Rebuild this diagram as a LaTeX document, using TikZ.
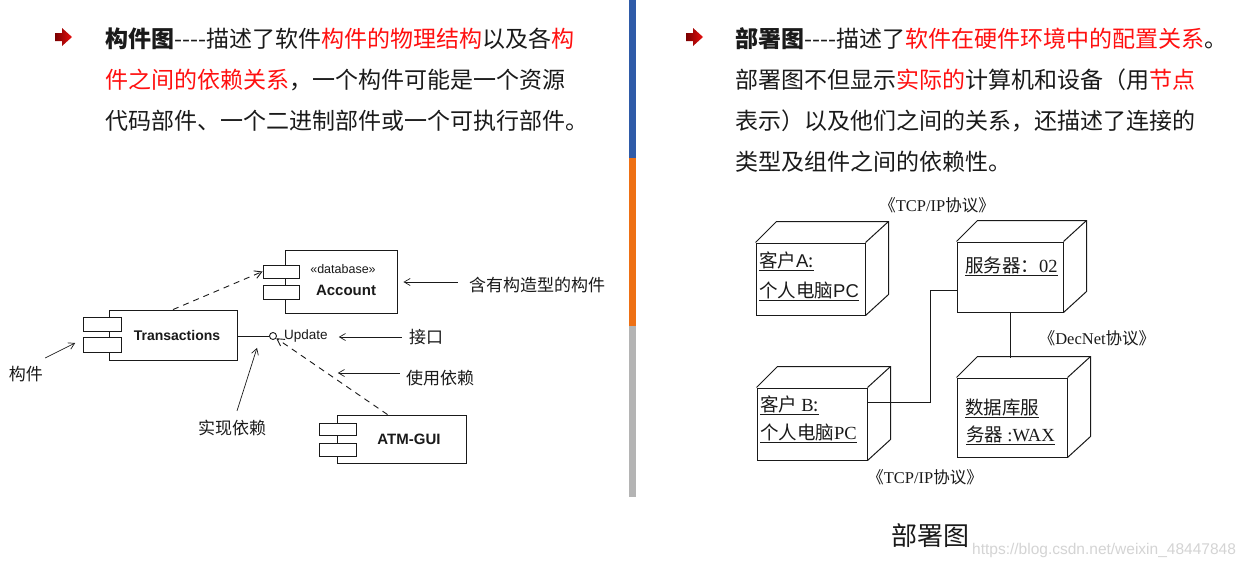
\documentclass[tikz,border=0pt]{standalone}
\usepackage{fontspec}
\setmainfont{Noto Sans CJK SC}
\newfontfamily\lserif{Liberation Serif}
\newfontfamily\arialf{Liberation Sans}
\usetikzlibrary{arrows.meta,calc}
\definecolor{hlred}{HTML}{FF1010}
\definecolor{bdark}{HTML}{7A0000}
\definecolor{bred}{HTML}{E81010}
\definecolor{barblue}{HTML}{2F5BA8}
\definecolor{barorange}{HTML}{EE7014}
\definecolor{bargrey}{HTML}{B4B4B4}
\definecolor{wmgrey}{HTML}{D4D4D4}
\definecolor{ink}{HTML}{1A1A1A}
\newcommand\hl[1]{\textcolor{hlred}{#1}}
\newcommand\dashes{{-}{-}{-}{-}}
\newcommand\deploybox[1]{%
  \draw[dline] (#1.north west) -- ++(21,-21) -- ([shift={(23,-21)}]#1.north east)
     -- ([shift={(23,-21)}]#1.south east) -- (#1.south east);
  \draw[dline] (#1.north east) -- ++(23,-21);}
\tikzset{
  txt/.style={anchor=west, inner sep=0pt, text=ink, font=\fontsize{23}{27}\selectfont},
  comp/.style={draw=ink, line width=0.9pt, fill=white, inner sep=0pt},
  smallr/.style={draw=ink, line width=0.9pt, fill=white, inner sep=0pt},
  lat/.style={inner sep=0pt, text=ink, font=\arialf\fontsize{13.5}{14}\selectfont},
  latb/.style={inner sep=0pt, text=ink, font=\arialf\bfseries\fontsize{14}{15}\selectfont},
  cjkl/.style={inner sep=0pt, text=ink, font=\fontsize{17}{18}\selectfont},
  ann/.style={draw=ink, line width=0.7pt, -{Straight Barb[length=6pt,width=7pt]}},
  dep/.style={draw=ink, line width=0.9pt, dash pattern=on 6pt off 5pt, -{Straight Barb[length=7pt,width=8pt]}},
  dline/.style={draw=ink, line width=1pt},
  dbox/.style={draw=ink, line width=1pt, inner sep=0pt},
  dtxt/.style={anchor=west, inner xsep=0pt, inner ysep=1.5pt, text=ink, font=\fontsize{18.5}{20}\selectfont,
     append after command={(\tikzlastnode.south west) edge[draw=ink, line width=1.3pt] (\tikzlastnode.south east)}},
  proto/.style={inner sep=0pt, text=ink, font=\fontsize{16.5}{17}\selectfont},
}
\begin{document}
\begin{tikzpicture}[x=1pt,y=-1pt]
\useasboundingbox[fill=white] (0,0) rectangle (1252,568);

% ---------- vertical separator ----------
\fill[barblue] (629,0) rectangle (636,158);
\fill[barorange] (629,158) rectangle (636,326);
\fill[bargrey] (629,326) rectangle (636,497);

% ---------- left text ----------
\shade[left color=bdark, right color=bred] (55,33) -- (62,33) -- (62,28) -- (72,37) -- (62,46) -- (62,41) -- (55,41) -- cycle;
\node[txt] (l1) at (105,39) {\textbf{构件图}\dashes 描述了软件\hl{构件的物理结构}以及各\hl{构}};
\node[txt] (l2) at (105,80) {\hl{件之间的依赖关系}，一个构件可能是一个资源};
\node[txt] (l3) at (105,121) {代码部件、一个二进制部件或一个可执行部件。};

% ---------- right text ----------
\shade[left color=bdark, right color=bred] (686,33) -- (693,33) -- (693,28) -- (703,37) -- (693,46) -- (693,41) -- (686,41) -- cycle;
\node[txt] (r1) at (735,39) {\textbf{部署图}\dashes 描述了\hl{软件在硬件环境中的配置关系}。};
\node[txt] (r2) at (735,80) {部署图不但显示\hl{实际的}计算机和设备（用\hl{节点}};
\node[txt] (r3) at (735,121) {表示）以及他们之间的关系，还描述了连接的};
\node[txt] (r4) at (735,162) {类型及组件之间的依赖性。};

% ---------- component diagram ----------
\node[comp, minimum width=112, minimum height=63] (acc) at (341,281.5) {};
\node[smallr, minimum width=36, minimum height=13] (acc1) at (281,271.5) {};
\node[smallr, minimum width=36, minimum height=14] (acc2) at (281,292) {};
\node[lat, font=\arialf\fontsize{12.5}{13}\selectfont] (accst) at (343,269) {«database»};
\node[latb, font=\arialf\bfseries\fontsize{15}{15}\selectfont] (accname) at (346,290) {Account};

\node[comp, minimum width=128, minimum height=50] (trans) at (173,335) {};
\node[smallr, minimum width=38, minimum height=14] (tr1) at (102,324) {};
\node[smallr, minimum width=38, minimum height=15] (tr2) at (102,344.5) {};
\node[latb] (transname) at (177,335) {Transactions};

\node[comp, minimum width=129, minimum height=48] (atm) at (401.5,439) {};
\node[smallr, minimum width=37, minimum height=12] (atm1) at (337.5,429) {};
\node[smallr, minimum width=37, minimum height=13] (atm2) at (337.5,449.5) {};
\node[latb, font=\arialf\bfseries\fontsize{15}{15}\selectfont] (atmname) at (409,439) {ATM-GUI};

\node[circle, draw=ink, line width=0.9pt, fill=white, minimum size=7pt, inner sep=0pt] (iface) at (273,336) {};
\node[lat, anchor=west] (upd) at (284,336) {Update};
\draw[draw=ink, line width=0.9pt] (trans.east |- iface) -- (iface.west);

\draw[dep] (trans.north) -- (acc1.west);
\draw[dep] ([xshift=-14pt]atm.north) -- (iface);

\node[cjkl] (lblacc) at (537,285) {含有构造型的构件};
\node[cjkl] (lblif) at (426,337) {接口};
\node[cjkl] (lbluse) at (440,378) {使用依赖};
\node[cjkl] (lblcomp) at (26,374) {构件};
\node[cjkl] (lblreal) at (232,428) {实现依赖};

\draw[ann] ([xshift=-11pt,yshift=3pt]lblacc.west) -- ([xshift=6pt,yshift=3pt]lblacc.west -| acc.east);
\draw[ann] ([xshift=-7pt]lblif.west) -- ++(-63,0);
\draw[ann] ([xshift=-6pt,yshift=5pt]lbluse.west) -- ++(-62,0);
\draw[ann] ([xshift=2pt,yshift=16pt]lblcomp.east) -- ++(30,-15);
\draw[ann] ([xshift=5pt,yshift=9pt]lblreal.north) -- ++(20,-63);

% ---------- deployment diagram ----------
\node[dbox, minimum width=109, minimum height=72] (cA) at (810.5,279) {};
\node[dbox, minimum width=110, minimum height=72] (cB) at (812,424) {};
\node[dbox, minimum width=106, minimum height=70] (srv) at (1010,277) {};
\node[dbox, minimum width=110, minimum height=79] (db) at (1012,417.5) {};
\deploybox{cA}
\deploybox{cB}
\deploybox{srv}
\deploybox{db}

\node[dtxt] (cAt1) at (759,260) {客户{\arialf A}:};
\node[dtxt] (cAt2) at (759,290) {个人电脑{\arialf PC}};
\node[dtxt] (srvt) at (965,265) {服务器：{\lserif 02}};
\node[dtxt] (cBt1) at (760,404) {客户 {\lserif B}:};
\node[dtxt] (cBt2) at (760,432) {个人电脑{\lserif PC}};
\node[dtxt] (dbt1) at (965,407) {数据库服};
\node[dtxt] (dbt2) at (966,434) {务器 {\lserif :WAX}};

\coordinate (bend) at (930,290);
\coordinate (dbback) at ([shift={(22,-20)}]db.north);
\draw[dline] ($(cA.north east)!0.24!(cA.south east)$) -- ($(cA.north east)!0.24!(cA.south east)$ -| srv.west);
\draw[dline] ($(cB.north east)!0.2!(cB.south east)$) -| (bend) -- (bend -| srv.west);
\draw[dline] (srv.south) -- (srv.south |- dbback);

\node[proto] (p1) at (937,205) {《{\lserif TCP/IP}协议》};
\node[proto] (p2) at (1097,338) {《{\lserif DecNet}协议》};
\node[proto] (p3) at (925,477) {《{\lserif TCP/IP}协议》};

\node[inner sep=0pt, text=ink, font=\fontsize{26}{26}\selectfont] (cap) at (930,536) {部署图};
\node[anchor=west, inner sep=0pt, text=wmgrey, font=\arialf\fontsize{15.5}{16}\selectfont] (wm) at (972,550) {https://blog.csdn.net/weixin\_48447848};
\end{tikzpicture}
\end{document}
